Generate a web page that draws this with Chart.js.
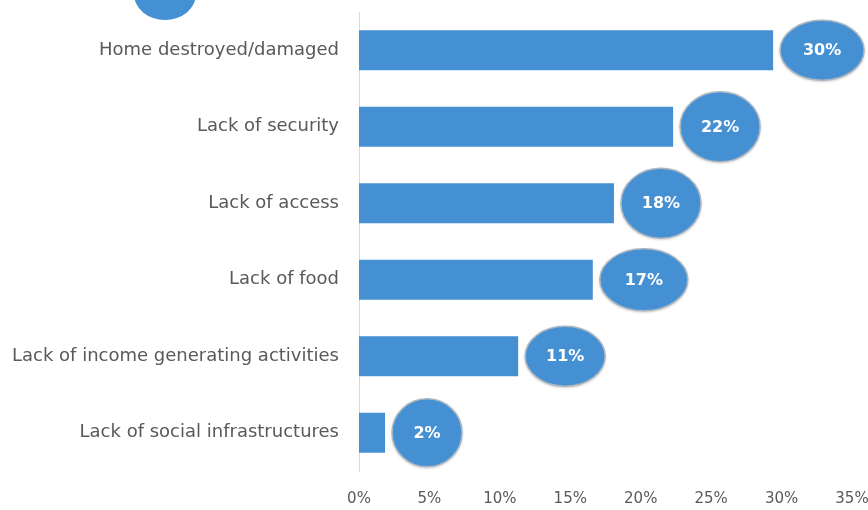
<!DOCTYPE html>
<html lang="en">
<head>
    <meta charset="UTF-8">
    <title>Reasons for displacement</title>
    <style>
        body {
            margin: 0;
            background: #fff;
        }
    </style>
    <script src="https://cdn.jsdelivr.net/npm/chart.js"></script>
</head>
<body>
    <canvas id="barChart" width="868" height="510"></canvas>

    <script>
        // Data
        const categories = [
            'Home destroyed/damaged',
            'Lack of security',
            'Lack of access',
            'Lack of food',
            'Lack of income generating activities',
            'Lack of social infrastructures'
        ];
        const shares = [29.4, 22.3, 18.1, 16.6, 11.3, 1.85];
        const shareLabels = ['30%', '22%', '18%', '17%', '11%', '2%'];

        const blue = '#4590d3';
        const textGrey = '#595959';
        const labelFont = '"DejaVu Sans", sans-serif';

        // the hand-drawn ovals are not all the same size: [rx, ry]
        const ovalSize = [[42, 30], [40, 35], [40, 35], [44, 31], [40, 30], [35, 34]];

        // Oval value labels next to each bar, plus the stray blob at the top
        const bubbles = {
            id: 'bubbles',
            afterDatasetsDraw(chart) {
                const ctx = chart.ctx;
                const meta = chart.getDatasetMeta(0);
                ctx.save();
                meta.data.forEach((bar, i) => {
                    const rx = ovalSize[i][0];
                    const ry = ovalSize[i][1];
                    const cx = bar.x + 7 + rx;
                    const cy = bar.y;
                    ctx.beginPath();
                    ctx.ellipse(cx, cy, rx, ry, 0, 0, Math.PI * 2);
                    ctx.shadowColor = 'rgba(0,0,0,0.3)';
                    ctx.shadowBlur = 3;
                    ctx.shadowOffsetY = 1;
                    ctx.fillStyle = blue;
                    ctx.fill();
                    ctx.shadowColor = 'transparent';
                    ctx.lineWidth = 1.5;
                    ctx.strokeStyle = '#aab6c2';
                    ctx.stroke();
                    ctx.fillStyle = '#fff';
                    ctx.font = 'bold 16px ' + labelFont;
                    ctx.textAlign = 'center';
                    ctx.textBaseline = 'middle';
                    ctx.fillText(shareLabels[i], cx, cy + 1);
                });

                // blob cut off at the top edge
                ctx.beginPath();
                ctx.ellipse(165, -6, 31, 26, 0, 0, Math.PI * 2);
                ctx.fillStyle = blue;
                ctx.fill();
                ctx.restore();
            }
        };

        const ctx = document.getElementById('barChart').getContext('2d');
        new Chart(ctx, {
            type: 'bar',
            data: {
                labels: categories,
                datasets: [{
                    data: shares,
                    backgroundColor: blue,
                    barPercentage: 0.52,
                    categoryPercentage: 1
                }]
            },
            options: {
                indexAxis: 'y',
                responsive: false,
                animation: false,
                layout: {
                    padding: { top: 12, right: 16, left: 0, bottom: 0 }
                },
                plugins: {
                    legend: { display: false },
                    tooltip: { enabled: false }
                },
                scales: {
                    x: {
                        min: 0,
                        max: 35,
                        ticks: {
                            stepSize: 5,
                            padding: 19,
                            color: textGrey,
                            font: { family: labelFont, size: 15 },
                            callback: v => v + '%'
                        },
                        grid: { display: false, drawTicks: false },
                        border: { display: false },
                        afterFit: scale => {
                            scale.height = 39;
                            scale.paddingLeft = 0;
                            scale.paddingRight = 0;
                        }
                    },
                    y: {
                        ticks: {
                            padding: 20,
                            color: textGrey,
                            font: { family: labelFont, size: 18 }
                        },
                        grid: { display: false, drawTicks: false },
                        border: { display: true, color: '#d9d9d9', width: 1 },
                        afterFit: scale => {
                            scale.width = 359;
                            scale.paddingTop = 0;
                            scale.paddingBottom = 0;
                        }
                    }
                }
            },
            plugins: [bubbles]
        });
    </script>
</body>
</html>
